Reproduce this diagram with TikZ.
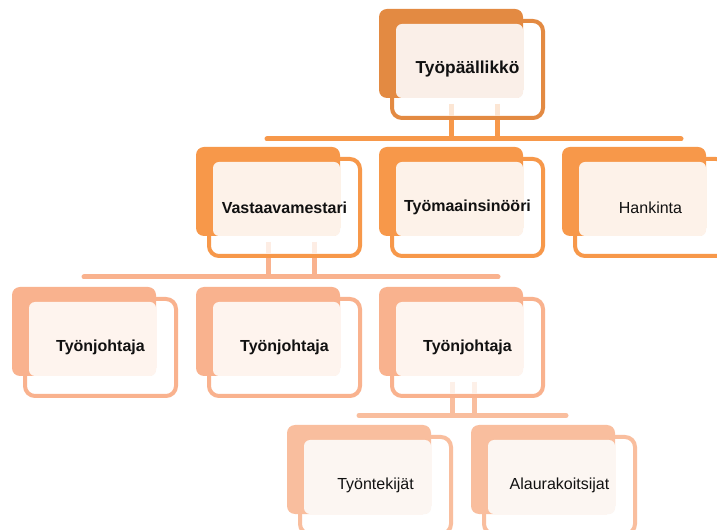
\documentclass[tikz,border=0pt]{standalone}
\usepackage{fontspec}
\setmainfont{Liberation Sans}
\usetikzlibrary{calc}
\definecolor{cA}{HTML}{E38A42}
\definecolor{cB}{HTML}{F7984A}
\definecolor{cC}{HTML}{F9B28E}
\definecolor{cD}{HTML}{F9BE9E}
\definecolor{pA}{HTML}{FAEFE8}
\definecolor{pB}{HTML}{FDF2E9}
\definecolor{pC}{HTML}{FEF4EE}
\definecolor{pD}{HTML}{FCF6F2}
\definecolor{fB}{HTML}{FCE6D4}
\definecolor{fC}{HTML}{FDEDE4}
\definecolor{fD}{HTML}{FDF0E8}
\definecolor{txt}{HTML}{111111}
\tikzset{
  backbox/.style={anchor=north west, rounded corners=6pt, minimum width=108pt, minimum height=66.75pt, inner sep=0pt, outer sep=0pt},
  frontbox/.style={rounded corners=7.5pt, line width=3pt, minimum width=113.25pt, minimum height=72.75pt, inner sep=0pt, outer sep=0pt},
  palebox/.style={rounded corners=4.5pt, minimum width=95.25pt, minimum height=55.5pt, inner sep=0pt, outer sep=0pt},
  labeltext/.style={text=txt, inner sep=0pt},
  conn/.style={line width=3.75pt},
  barline/.style={line width=3.75pt, line cap=round},
}
\newcommand{\orgunit}[7]{%
  \node[backbox, fill=#4] (#1-back) at (#2,#3) {};
  \node[frontbox, draw=#4] (#1) at ({#2+88.5},{#3+60.5}) {};
  \node[palebox, fill=#5] (#1-pale) at ({#2+80.5},{#3+52}) {};
  \node[labeltext, font=#6] (#1-text) at (#1.center) {#7};
}
% #1 node, #2 coordinate name, #3 x offset from centre, #4 faint colour, #5 solid colour, #6 bar
\newcommand{\drop}[6]{%
  \coordinate (#2) at ($(#1.south)+(#3,0)$);
  \draw[conn, draw=#4] ($(#2)+(0,-14)$) -- ($(#2)+(0,-2)$);
  \draw[conn, draw=#5] ($(#2)+(0,2)$) -- (#2 |- #6);
}
\begin{document}
\begin{tikzpicture}[x=0.75pt,y=-0.75pt]
\clip (0,0) rectangle (717,530);
\fill[white] (0,0) rectangle (717,530);

\orgunit{top}{379}{9}{cA}{pA}{\fontsize{13}{15}\selectfont\bfseries}{Työpäällikkö}
\orgunit{vm}{196}{147}{cB}{pB}{\fontsize{12}{14}\selectfont\bfseries}{Vastaavamestari}
\orgunit{ti}{379}{147}{cB}{pB}{\fontsize{12}{14}\selectfont\bfseries}{Työmaainsinööri}
\orgunit{ha}{562}{147}{cB}{pB}{\fontsize{12}{14}\selectfont}{Hankinta}
\orgunit{tj1}{12}{287}{cC}{pC}{\fontsize{12}{14}\selectfont\bfseries}{Työnjohtaja}
\orgunit{tj2}{196}{287}{cC}{pC}{\fontsize{12}{14}\selectfont\bfseries}{Työnjohtaja}
\orgunit{tj3}{379}{287}{cC}{pC}{\fontsize{12}{14}\selectfont\bfseries}{Työnjohtaja}
\orgunit{tt}{287}{425}{cD}{pD}{\fontsize{12}{14}\selectfont}{Työntekijät}
\orgunit{al}{471}{425}{cD}{pD}{\fontsize{12}{14}\selectfont}{Alaurakoitsijat}

% bars
\coordinate (bar1L) at (267,139);
\coordinate (bar1R) at (681,139);
\coordinate (bar2L) at (84,277);
\coordinate (bar2R) at (498,277);
\coordinate (bar3L) at (359,415.5);
\coordinate (bar3R) at (566,415.5);
\draw[barline, draw=cB] (bar1L) -- (bar1R);
\draw[barline, draw=cC] (bar2L) -- (bar2R);
\draw[barline, draw=cD] (bar3L) -- (bar3R);

% drops
\drop{top}{topdA}{-16.5}{fB}{cB}{bar1L}
\drop{top}{topdB}{29.5}{fB}{cB}{bar1L}
\drop{vm}{vmdA}{-16.5}{fC}{cC}{bar2L}
\drop{vm}{vmdB}{29.5}{fC}{cC}{bar2L}
\drop{tj3}{tjdA}{-15.5}{fD}{cD}{bar3L}
\drop{tj3}{tjdB}{6.5}{fD}{cD}{bar3L}
\end{tikzpicture}
\end{document}
